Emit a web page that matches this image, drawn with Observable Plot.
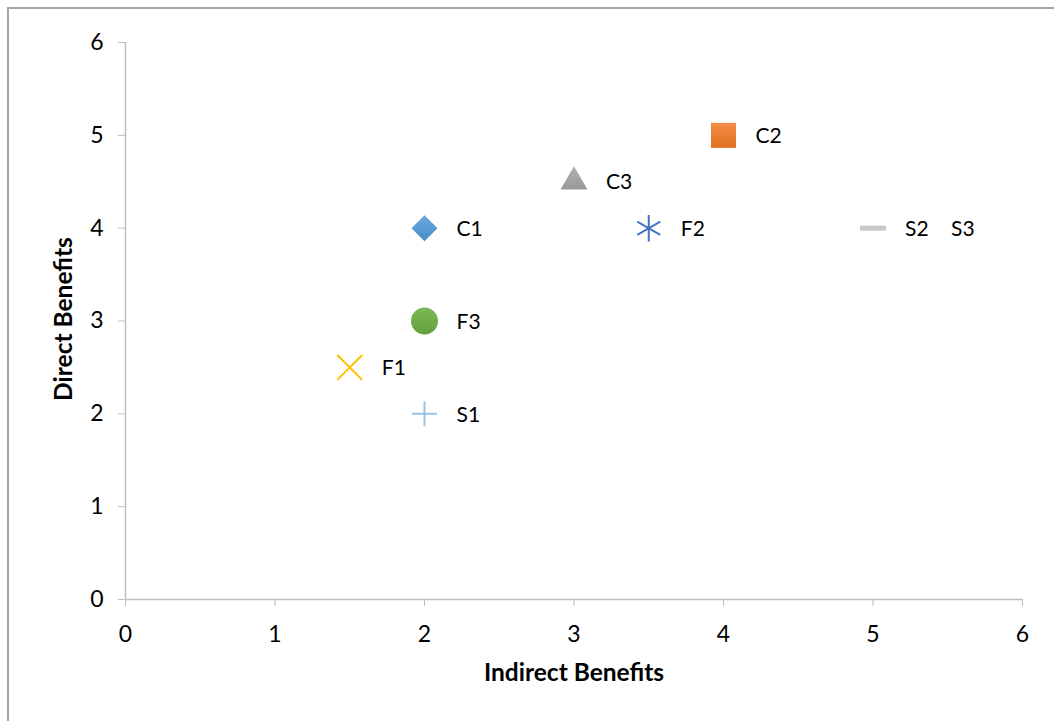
<!DOCTYPE html>
<html>
<head>
<meta charset="utf-8">
<script src="https://cdn.jsdelivr.net/npm/d3@7"></script>
<script src="https://cdn.jsdelivr.net/npm/@observablehq/plot@0.6"></script>
<style>
  html, body { margin: 0; padding: 0; background: #fff; overflow: hidden; }
  body { width: 1054px; height: 721px; position: relative; }
  #frame {
    position: absolute; left: 7px; top: 7px; width: 1100px; height: 800px;
    border-left: 2px solid #a6a6a6; border-top: 2px solid #a6a6a6;
    box-sizing: border-box; pointer-events: none;
  }
  #chart { position: absolute; left: 0; top: 0; }
  #chart svg { font-family: Lato, "Open Sans", sans-serif; }
</style>
</head>
<body>
<div id="chart"></div>
<div id="frame"></div>
<script>
// Options scored on indirect and direct benefits
const names = ["C1", "C2", "C3", "F1", "F2", "F3", "S1", "S2", "S3"];
const indirect = [2, 4, 3, 1.5, 3.5, 2, 2, 5, 5];
const direct = [4, 5, 4.5, 2.5, 4, 3, 2, 4, 4];
const ticks = [0, 1, 2, 3, 4, 5, 6];

const points = names.map((name, i) => ({name, x: indirect[i], y: direct[i]}));

// Short horizontal bar used as the S2 marker
const dash = {
  draw(context, size) {
    const w = 13, h = 2.5;
    context.moveTo(-w, -h);
    context.lineTo(w, -h);
    context.lineTo(w, h);
    context.lineTo(-w, h);
    context.closePath();
  }
};

// Soft top-to-bottom shading for the filled markers
const gradients = {
  gC1: ["#6aa8df", "#4a8cc8"],
  gC2: ["#f28c48", "#e2711f"],
  gC3: ["#b0b0b0", "#999999"],
  gF3: ["#7cb955", "#62a03b"]
};

// Marker look for each option
const markerStyle = {
  C1: {symbol: "diamond2", r: 11.7, fill: "url(#gC1)"},
  C2: {symbol: "square", r: 14.1, fill: "url(#gC2)"},
  C3: {symbol: "triangle", r: 10, fill: "url(#gC3)"},
  F1: {symbol: "times", r: 11.4, stroke: "#ffc000", strokeWidth: 2},
  F2: {symbol: "asterisk", r: 12.6, stroke: "#4472c4", strokeWidth: 2},
  F3: {symbol: "circle", r: 13.5, fill: "url(#gF3)"},
  S1: {symbol: "plus", r: 8.1, stroke: "#9dc3e6", strokeWidth: 2},
  S2: {symbol: dash, r: 10, fill: "#c9c9c9"},
  S3: null
};

// Extra label shift for labels that would otherwise overlap
const labelShift = {S3: 46};

const dotMarks = points
  .filter(d => markerStyle[d.name])
  .map(d => {
    const s = markerStyle[d.name];
    return Plot.dot([d], {
      x: "x", y: "y",
      symbol: () => s.symbol,
      r: s.r,
      fill: s.fill || "none",
      stroke: s.stroke || "none",
      strokeWidth: s.strokeWidth || 0
    });
  });

const labelMarks = points.map(d => Plot.text([d], {
  x: "x", y: "y", text: "name",
  dx: 32 + (labelShift[d.name] || 0),
  dy: 1,
  textAnchor: "start",
  lineAnchor: "middle",
  fontSize: 21,
  fill: "#000"
}));

const chart = Plot.plot({
  width: 1054,
  height: 721,
  marginLeft: 125,
  marginRight: 32,
  marginTop: 42,
  marginBottom: 122,
  style: {background: "transparent", color: "#000", fontSize: "23px"},
  x: {domain: [0, 6]},
  y: {domain: [0, 6]},
  symbol: {type: "identity"},
  marks: [
    Plot.axisX({ticks, tickSize: 7, tickPadding: 19, stroke: "#bfbfbf", fill: "#000",
      fontSize: 23, label: null, tickFormat: d => String(d)}),
    Plot.axisY({ticks, tickSize: 7, tickPadding: 15, stroke: "#bfbfbf", fill: "#000",
      fontSize: 23, label: null, tickFormat: d => String(d)}),
    Plot.ruleY([0], {stroke: "#bfbfbf", strokeWidth: 1.5}),
    Plot.ruleX([0], {stroke: "#bfbfbf", strokeWidth: 1.5}),
    ...dotMarks,
    ...labelMarks
  ]
});

const svg = d3.select(chart);
const defs = svg.insert("defs", ":first-child");
for (const [id, [top, bottom]] of Object.entries(gradients)) {
  const g = defs.append("linearGradient").attr("id", id)
    .attr("x1", 0).attr("y1", 0).attr("x2", 0).attr("y2", 1);
  g.append("stop").attr("offset", "0%").attr("stop-color", top);
  g.append("stop").attr("offset", "100%").attr("stop-color", bottom);
}

// Axis titles
svg.append("text")
  .attr("x", 574).attr("y", 675)
  .attr("text-anchor", "middle").attr("dominant-baseline", "middle")
  .attr("font-size", 24.5).attr("font-weight", "bold").attr("fill", "#000")
  .text("Indirect Benefits");
svg.append("text")
  .attr("transform", "translate(66,319) rotate(-90)")
  .attr("text-anchor", "middle").attr("dominant-baseline", "middle")
  .attr("font-size", 24.5).attr("font-weight", "bold").attr("fill", "#000")
  .text("Direct Benefits");

document.getElementById("chart").appendChild(chart);
</script>
</body>
</html>
